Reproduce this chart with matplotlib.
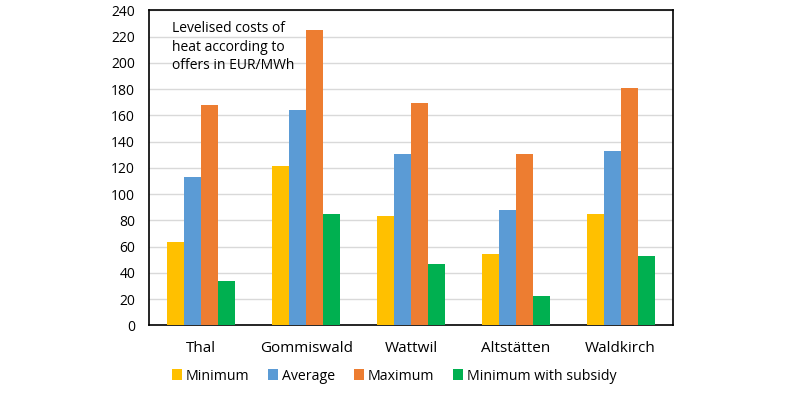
import matplotlib.pyplot as plt
import numpy as np

plt.rcParams["font.family"] = ["Open Sans", "DejaVu Sans"]

# データ
places = ["Thal", "Gommiswald", "Wattwil", "Altstätten", "Waldkirch"]
minimum = [63.5, 121.5, 83.5, 54.5, 85]
average = [113, 164, 130.5, 88, 133]
maximum = [168, 225, 169, 130.5, 181]
min_subsidy = [34, 85, 47, 22.5, 53]

series = [
    ("Minimum", minimum, "#FFC000"),
    ("Average", average, "#5B9BD5"),
    ("Maximum", maximum, "#ED7D31"),
    ("Minimum with subsidy", min_subsidy, "#00B050"),
]

fig = plt.figure(figsize=(7.86, 3.93), dpi=100)
ax = fig.add_axes([0.1896, 0.1723, 0.6667, 0.8015])

x = np.arange(len(places))
w = 0.1625
for i, (name, vals, col) in enumerate(series):
    ax.bar(x + (i - 1.5) * w, vals, width=w, color=col, label=name, zorder=3)

ax.set_xlim(-0.5, len(places) - 0.5)
ax.set_ylim(0, 240)
ax.set_yticks(np.arange(0, 241, 20))
ax.set_xticks(x)
ax.set_xticklabels(places, fontsize=11)
ax.tick_params(axis="both", length=0)
ax.tick_params(axis="y", labelsize=10, pad=10)
ax.tick_params(axis="x", pad=11)
ax.grid(axis="y", color="#D9D9D9", linewidth=1, zorder=0)
for s in ax.spines.values():
    s.set_color("black")
    s.set_linewidth(1.2)

ax.text(0.043, 0.965, "Levelised costs of\nheat according to\noffers in EUR/MWh",
        transform=ax.transAxes, fontsize=10, va="top", ha="left", linespacing=1.3)

fig.legend(loc="center", bbox_to_anchor=(394 / 786, 17 / 393), ncol=4, frameon=False,
           fontsize=10.2, handlelength=0.75, handleheight=0.75, handletextpad=0.25,
           columnspacing=1.3)

fig.savefig("out.png", dpi=100)
